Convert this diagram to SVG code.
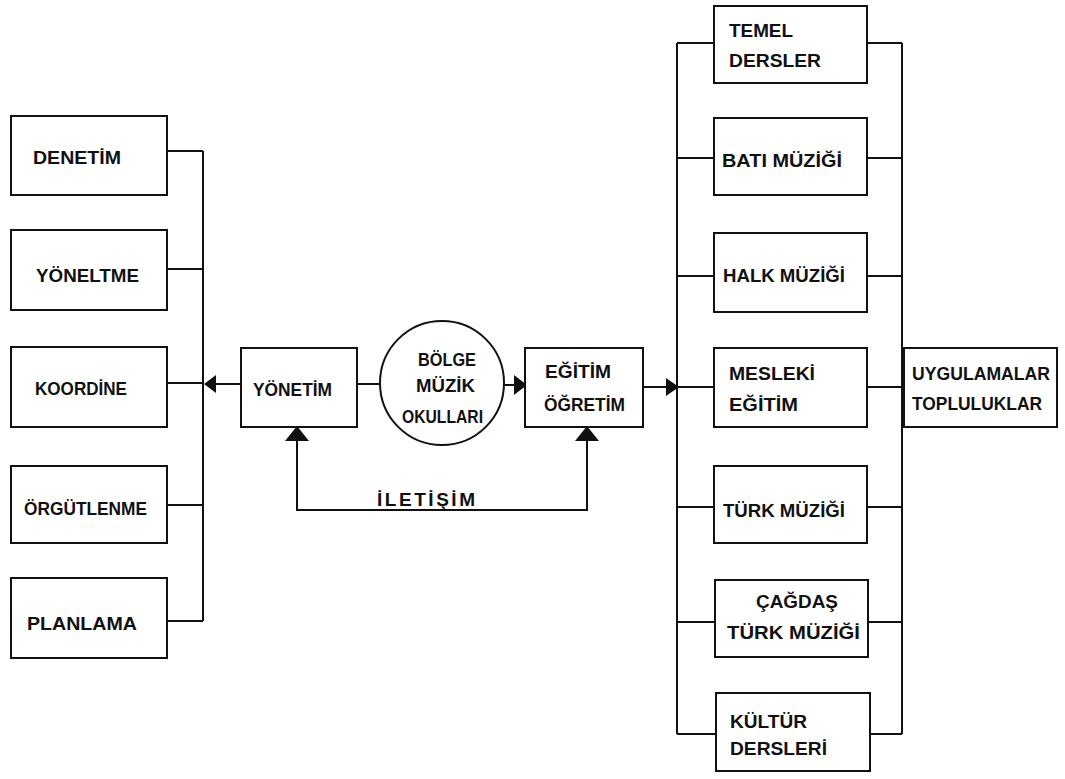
<svg xmlns="http://www.w3.org/2000/svg" width="1065" height="779" viewBox="0 0 1065 779">
<style>
.box{fill:#fff;stroke:#111;stroke-width:2}
.ln{fill:none;stroke:#111;stroke-width:2}
.ah{fill:#111;stroke:none}
text{font-family:"Liberation Sans",Arial,sans-serif;font-weight:bold;font-size:19px;fill:#111}
</style>
<rect width="1065" height="779" fill="#fff"/>
<g id="connectors">
<path class="ln" d="M167,151H203M167,269H203M167,383H203M167,505H203M167,621H203M203,151V621"/>
<path class="ln" d="M241,384H214"/>
<path class="ln" d="M357,384H380"/>
<path class="ln" d="M504,385H515"/>
<path class="ln" d="M643,387H667"/>
<path class="ln" d="M297,440V510H587V440"/>
<path class="ln" d="M677,43V734M677,43H714M677,158H714M677,276H714M677,387H714M677,507H714M677,622H714M677,734H716"/>
<path class="ln" d="M902,43V734M867,43H902M867,158H902M867,276H902M867,387H904M867,507H902M867,622H902M869,734H902"/>
<polygon class="ah" points="204,384 216,375 216,393"/>
<polygon class="ah" points="527,385 514,375 514,395"/>
<polygon class="ah" points="679,387 666,378 666,396"/>
<polygon class="ah" points="297,426 285,441 309,441"/>
<polygon class="ah" points="587,426 575,441 599,441"/>
<text x="377" y="506" textLength="98" lengthAdjust="spacing">İLETİŞİM</text>
</g>
<g id="denetim"><rect class="box" x="11" y="116" width="156" height="79"/><text x="33" y="164" textLength="88" lengthAdjust="spacingAndGlyphs">DENETİM</text></g>
<g id="yoneltme"><rect class="box" x="11" y="230" width="156" height="80"/><text x="36" y="282" textLength="103" lengthAdjust="spacingAndGlyphs">YÖNELTME</text></g>
<g id="koordine"><rect class="box" x="11" y="347" width="156" height="80"/><text x="35" y="395" textLength="92" lengthAdjust="spacingAndGlyphs">KOORDİNE</text></g>
<g id="orgutlenme"><rect class="box" x="11" y="466" width="156" height="77"/><text x="24" y="515" textLength="123" lengthAdjust="spacingAndGlyphs">ÖRGÜTLENME</text></g>
<g id="planlama"><rect class="box" x="11" y="578" width="156" height="80"/><text x="27" y="630" textLength="110" lengthAdjust="spacingAndGlyphs">PLANLAMA</text></g>
<g id="yonetim"><rect class="box" x="241" y="348" width="116" height="79"/><text x="253" y="396" textLength="79" lengthAdjust="spacingAndGlyphs">YÖNETİM</text></g>
<g id="bolge"><circle class="box" cx="442" cy="383" r="62"/><text x="418" y="366" textLength="58" lengthAdjust="spacingAndGlyphs">BÖLGE</text><text x="416" y="392" textLength="59" lengthAdjust="spacingAndGlyphs">MÜZİK</text><text x="402" y="423" textLength="81" lengthAdjust="spacingAndGlyphs">OKULLARI</text></g>
<g id="egitim"><rect class="box" x="525" y="348" width="118" height="79"/><text x="545" y="378" textLength="66" lengthAdjust="spacingAndGlyphs">EĞİTİM</text><text x="544" y="411" textLength="81" lengthAdjust="spacingAndGlyphs">ÖĞRETİM</text></g>
<g id="temel"><rect class="box" x="714" y="6" width="153" height="77"/><text x="729" y="37" textLength="64" lengthAdjust="spacingAndGlyphs">TEMEL</text><text x="729" y="67" textLength="92" lengthAdjust="spacingAndGlyphs">DERSLER</text></g>
<g id="bati"><rect class="box" x="714" y="118" width="153" height="77"/><text x="722" y="167" textLength="120" lengthAdjust="spacingAndGlyphs">BATI MÜZİĞİ</text></g>
<g id="halk"><rect class="box" x="714" y="233" width="153" height="79"/><text x="723" y="282" textLength="122" lengthAdjust="spacingAndGlyphs">HALK MÜZİĞİ</text></g>
<g id="mesleki"><rect class="box" x="714" y="348" width="153" height="79"/><text x="729" y="380" textLength="86" lengthAdjust="spacingAndGlyphs">MESLEKİ</text><text x="729" y="411" textLength="69" lengthAdjust="spacingAndGlyphs">EĞİTİM</text></g>
<g id="turk"><rect class="box" x="714" y="466" width="153" height="77"/><text x="723" y="517" textLength="122" lengthAdjust="spacingAndGlyphs">TÜRK MÜZİĞİ</text></g>
<g id="cagdas"><rect class="box" x="715" y="580" width="153" height="77"/><text x="756" y="608" textLength="82" lengthAdjust="spacingAndGlyphs">ÇAĞDAŞ</text><text x="727" y="639" textLength="133" lengthAdjust="spacingAndGlyphs">TÜRK MÜZİĞİ</text></g>
<g id="kultur"><rect class="box" x="716" y="693" width="154" height="78"/><text x="730" y="728" textLength="77" lengthAdjust="spacingAndGlyphs">KÜLTÜR</text><text x="730" y="755" textLength="97" lengthAdjust="spacingAndGlyphs">DERSLERİ</text></g>
<g id="uygulamalar"><rect class="box" x="904" y="348" width="153" height="79"/><text x="912" y="380" textLength="138" lengthAdjust="spacingAndGlyphs">UYGULAMALAR</text><text x="912" y="410" textLength="130" lengthAdjust="spacingAndGlyphs">TOPLULUKLAR</text></g>
</svg>
